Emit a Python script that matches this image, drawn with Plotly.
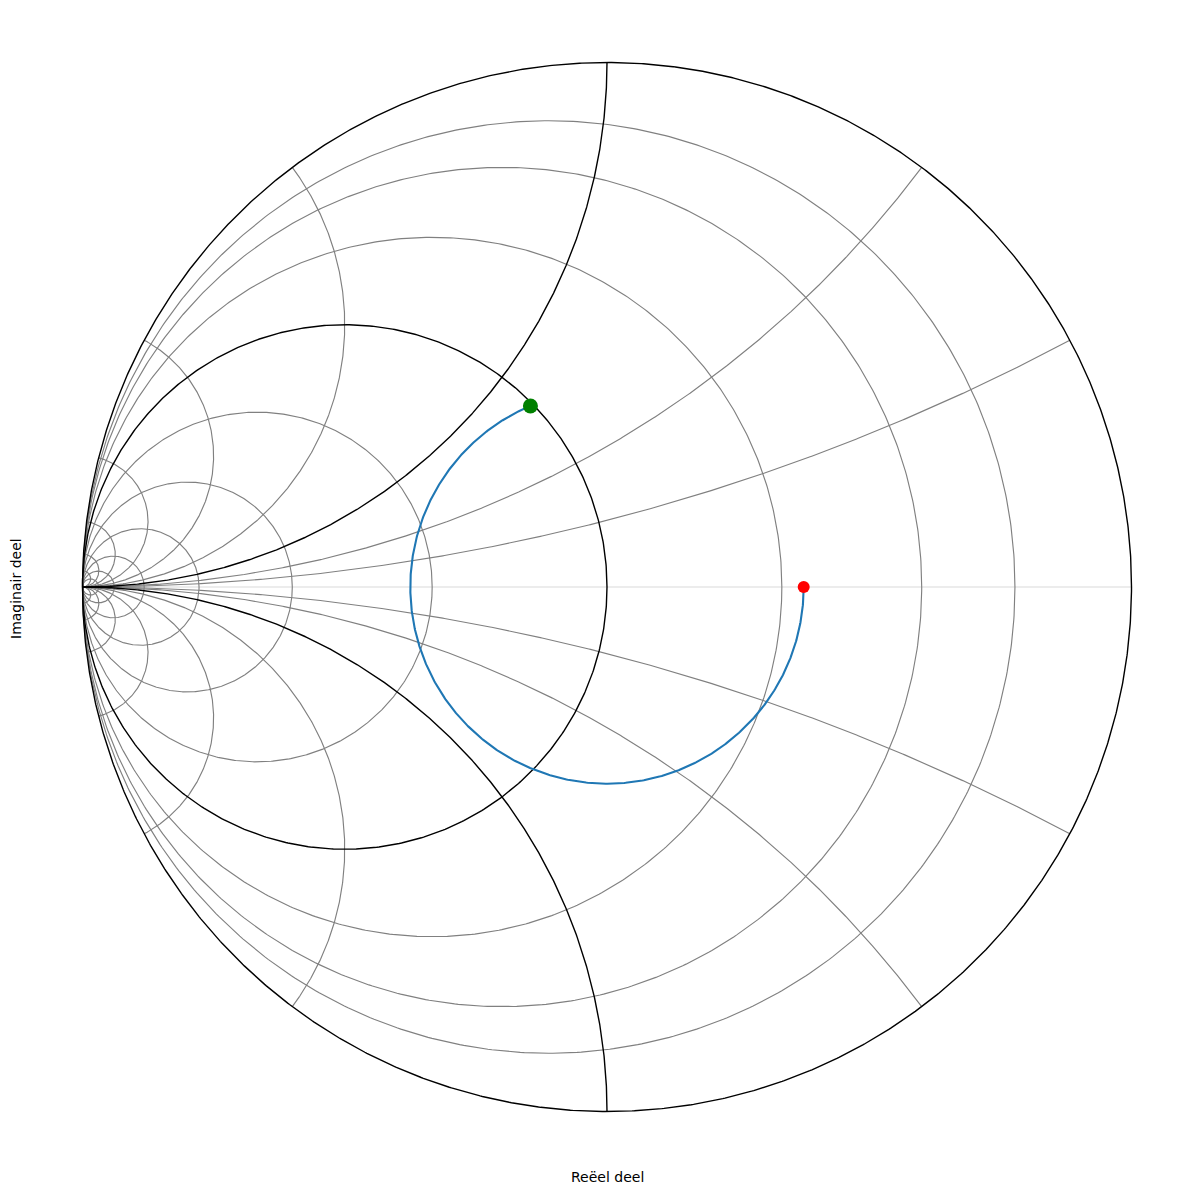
import numpy as np
import plotly.graph_objects as go

# ---- chart data (admittance Smith chart) ----
conductance_values = [0.125, 0.25, 0.5, 2, 4, 8, 16, 32, 64]   # gray constant-g circles
susceptance_values = [0.25, 0.5, 2, 4, 8, 16, 32, 64]          # gray constant-b arcs
highlight_values = [1]                                         # black g / b = 1 lines
load_point = [0.375, 0.0]          # reflection coefficient of the load (red)
match_point = [-0.146, 0.345]      # point on the g = 1 circle (green)
path_radius = 0.375                # |Gamma| of the rotation path

GRAY = "#808080"
BLACK = "#000000"

fig = go.Figure()


def g_circle(g, n=721):
    c = -g / (1 + g)
    r = 1 / (1 + g)
    t = np.linspace(0, 2 * np.pi, n)
    return c + r * np.cos(t), r * np.sin(t)


def b_arc(b, sign, n=600):
    R = 1 / b
    cx, cy = -1.0, R
    xe = (1 - b * b) / (1 + b * b)
    ye = 2 * b / (1 + b * b)
    a0 = -np.pi / 2
    a1 = np.arctan2(ye - cy, xe - cx)
    t = np.linspace(a0, a1, n)
    x = cx + R * np.cos(t)
    y = cy + R * np.sin(t)
    return x, sign * y


def add_line(x, y, color, width):
    fig.add_trace(go.Scatter(x=x, y=y, mode="lines",
                             line=dict(color=color, width=width),
                             hoverinfo="skip", showlegend=False))


# real axis
add_line([-1, 1], [0, 0], "#e6e6e6", 1.5)

# gray grid
for g in conductance_values:
    x, y = g_circle(g)
    add_line(x, y, GRAY, 1.15)
for b in susceptance_values:
    for s in (1, -1):
        x, y = b_arc(b, s)
        add_line(x, y, GRAY, 1.15)

# black lines
t = np.linspace(0, 2 * np.pi, 1441)
add_line(np.cos(t), np.sin(t), BLACK, 1.4)
for v in highlight_values:
    x, y = g_circle(v)
    add_line(x, y, BLACK, 1.4)
    for s in (1, -1):
        x, y = b_arc(v, s)
        add_line(x, y, BLACK, 1.4)

# rotation path: from load clockwise to the match point
a_start = np.arctan2(load_point[1], load_point[0])
a_end = np.arctan2(match_point[1], match_point[0]) - 2 * np.pi
ang = np.linspace(a_start, a_end, 600)
fig.add_trace(go.Scatter(x=path_radius * np.cos(ang), y=path_radius * np.sin(ang),
                         mode="lines", line=dict(color="#1f77b4", width=2.1),
                         hoverinfo="skip", showlegend=False))

fig.add_trace(go.Scatter(x=[load_point[0]], y=[load_point[1]], mode="markers",
                         marker=dict(color="red", size=12), showlegend=False))
fig.add_trace(go.Scatter(x=[match_point[0]], y=[match_point[1]], mode="markers",
                         marker=dict(color="green", size=15), showlegend=False))

OFF = 8  # page body margin
W = H = 1194
L, T = 72 - OFF, 52 - OFF
pw = ph = 1070
R = W - L - pw
B = H - T - ph


def px_x(p):
    return (p - OFF - L) / pw


def px_y(p):
    return (H - B - (p - OFF)) / ph


fig.update_layout(
    width=W, height=H, autosize=False,
    margin=dict(l=L, r=R, t=T, b=B, pad=0),
    paper_bgcolor="white", plot_bgcolor="white",
    xaxis=dict(range=[-1.02, 1.02], visible=False, fixedrange=True),
    yaxis=dict(range=[-1.02, 1.02], visible=False, fixedrange=True),
    font=dict(family="DejaVu Sans", size=14, color="black"),
    annotations=[
        dict(text="Reëel deel", xref="paper", yref="paper",
             x=px_x(607), y=px_y(1177),
             xanchor="center", yanchor="middle", showarrow=False,
             font=dict(size=14)),
        dict(text="Imaginair deel", xref="paper", yref="paper",
             x=px_x(16), y=px_y(589), textangle=-90,
             xanchor="center", yanchor="middle", showarrow=False,
             font=dict(size=14)),
    ],
)

fig.write_html("out.html")
